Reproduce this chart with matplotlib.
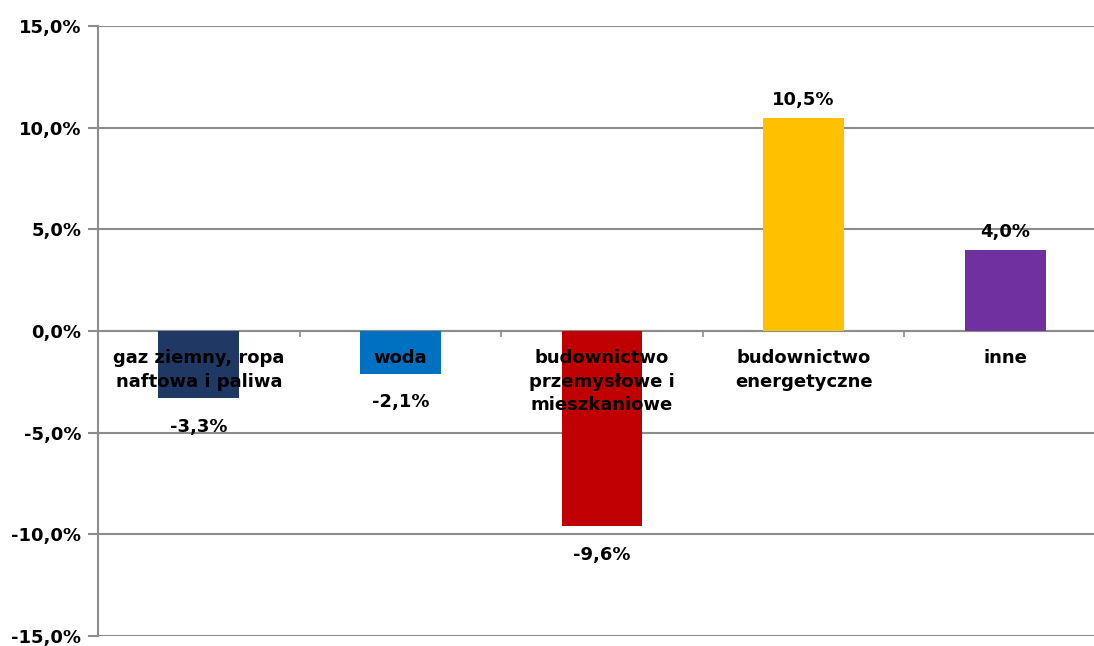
import matplotlib.pyplot as plt
import numpy as np

# categories and values (% change)
categories = [
    "gaz ziemny, ropa\nnaftowa i paliwa",
    "woda",
    "budownictwo\nprzemysłowe i\nmieszkaniowe",
    "budownictwo\nenergetyczne",
    "inne",
]
values = [-3.3, -2.1, -9.6, 10.5, 4.0]
colors = ["#1F3864", "#0070C0", "#C00000", "#FFC000", "#7030A0"]
y_ticks = [-15, -10, -5, 0, 5, 10, 15]

GRID = "#8C8C8C"
FONT = "DejaVu Sans"


def fmt(v):
    return "{:.1f}%".format(v).replace(".", ",")


def main():
    plt.rcParams['font.family'] = FONT
    fig = plt.figure(figsize=(10.94, 6.46), dpi=100)
    ax = fig.add_axes([98 / 1094, 1 - 636 / 646, 1008 / 1094, 610 / 646])

    x = np.arange(len(values))
    ax.bar(x, values, width=0.4, color=colors, zorder=3)

    ax.set_xlim(-0.5, len(values) - 0.5)
    ax.set_ylim(-15, 15)
    ax.set_yticks(y_ticks)
    ax.set_yticklabels([fmt(v) for v in y_ticks], fontsize=13, fontweight='bold')
    ax.yaxis.grid(True, color=GRID, linewidth=1.5, zorder=0)

    # category boundary ticks on the zero line
    ax.spines['bottom'].set_position(('data', 0))
    ax.spines['bottom'].set_color(GRID)
    ax.spines['bottom'].set_linewidth(1.5)
    ax.set_xticks(np.arange(-0.5, len(values), 1.0))
    ax.set_xticklabels([])
    ax.tick_params(axis='x', direction='out', length=4, width=1.2, color=GRID)
    ax.tick_params(axis='y', length=7, width=1.5, color=GRID, pad=5)
    ax.spines['left'].set_color(GRID)
    ax.spines['left'].set_linewidth(1.5)
    ax.spines['top'].set_visible(False)
    ax.spines['right'].set_visible(False)

    for i, (cat, v) in enumerate(zip(categories, values)):
        ax.annotate(cat, xy=(i, 0), xytext=(0, -13), textcoords='offset points',
                    ha='center', va='top', fontsize=13, fontweight='bold',
                    linespacing=1.4, zorder=4)
        if v >= 0:
            ax.annotate(fmt(v), xy=(i, v), xytext=(0, 6), textcoords='offset points',
                        ha='center', va='bottom', fontsize=13, fontweight='bold', zorder=4)
        else:
            ax.annotate(fmt(v), xy=(i, v), xytext=(0, -14), textcoords='offset points',
                        ha='center', va='top', fontsize=13, fontweight='bold', zorder=4)

    fig.savefig("out.png", dpi=100)


if __name__ == "__main__":
    main()
